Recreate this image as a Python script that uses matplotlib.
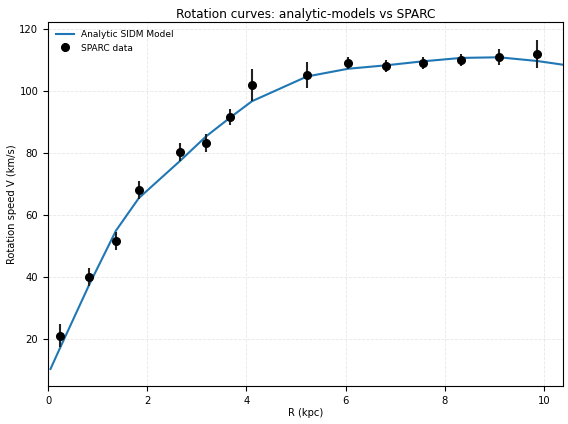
import matplotlib
matplotlib.use("Agg")
import matplotlib.pyplot as plt

# SPARC data
R_data = [0.24, 0.83, 1.37, 1.83, 2.66, 3.19, 3.67, 4.11, 5.22, 6.05, 6.81, 7.56, 8.33, 9.09, 9.86]
V_data = [21.0, 40.0, 51.7, 68.1, 80.4, 83.3, 91.7, 102.0, 105.3, 109.2, 108.2, 109.2, 110.1, 111.1, 112.1]
V_err = [3.7, 3.0, 3.0, 3.0, 3.0, 3.0, 2.5, 5.2, 4.3, 2.0, 2.0, 2.0, 2.0, 2.5, 4.5]

# Analytic SIDM model curve
R_model = [0.05, 0.24, 0.83, 1.37, 1.83, 2.66, 3.19, 3.67, 4.11, 5.22, 6.05, 6.81, 7.56, 8.33, 9.09, 9.86, 10.38]
V_model = [10.3, 17.0, 37.5, 55.0, 65.5, 77.5, 85.5, 91.5, 96.8, 104.8, 107.3, 108.4, 109.7, 110.8, 111.0, 109.8, 108.6]

fig, ax = plt.subplots(figsize=(5.68, 4.24), dpi=100)
fig.subplots_adjust(left=48/568, right=563/568, top=1-22/424, bottom=1-386/424)
ax.plot(R_model, V_model, color="#1f77b4", lw=1.5, label="Analytic SIDM Model")
ax.errorbar(R_data, V_data, yerr=V_err, fmt="o", color="black", ecolor="#222222",
            elinewidth=1.5, markersize=5.5, label="SPARC data", zorder=3)
ax.set_xlim(0, 10.38)
ax.set_ylim(4.8, 122.4)
ax.set_xlabel("R (kpc)", fontsize=7.2, labelpad=2)
ax.set_ylabel("Rotation speed V (km/s)", fontsize=7.2, labelpad=1.5)
ax.set_title("Rotation curves: analytic-models vs SPARC", fontsize=8.7, pad=3)
ax.tick_params(labelsize=7.2)
ax.grid(True, linestyle="--", color="#dddddd", lw=0.6, alpha=0.7)
ax.legend(fontsize=6.5, frameon=False, loc="upper left")
fig.savefig("out.png", dpi=100)
